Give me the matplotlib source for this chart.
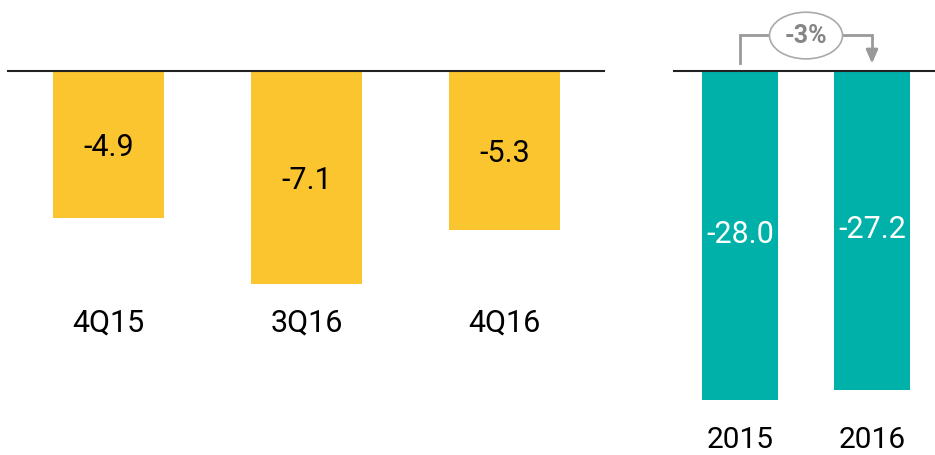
import matplotlib.pyplot as plt

plt.rcParams['font.family'] = ['Roboto', 'DejaVu Sans']

# quarterly values
quarters = ['4Q15', '3Q16', '4Q16']
quarter_vals = [-4.9, -7.1, -5.3]

# yearly values
years = ['2015', '2016']
year_vals = [-28.0, -27.2]
change_label = '-3%'

yellow = '#FBC52F'
teal = '#00B1A9'
grey = '#999999'

W, H = 935, 455
fig = plt.figure(figsize=(W / 100, H / 100), dpi=100)

# left panel: baseline at 71px, 30 px per unit
axl = fig.add_axes([8 / W, 0, (604 - 8) / W, 1])
axl.set_xlim(-0.508, 2.503)
axl.set_ylim(-(H - 71) / 30, 71 / 30)
axl.bar(range(len(quarters)), quarter_vals, width=0.56, color=yellow)
axl.axhline(0, color='#222222', lw=1.5, clip_on=False)
for i, v in enumerate(quarter_vals):
    axl.text(i, v / 2 - 0.1, f'{v:.1f}', ha='center', va='center',
             fontsize=22, color='black')
    axl.text(i, -8.4, quarters[i], ha='center', va='center',
             fontsize=22, color='black')
axl.axis('off')

# right panel: 11.74 px per unit
s = 11.74
axr = fig.add_axes([674 / W, 0, (W - 674) / W, 1])
axr.set_xlim(-(740 - 674) / 132, (W - 740) / 132)
axr.set_ylim(-(H - 71) / s, 71 / s)
axr.bar(range(len(years)), year_vals, width=0.57, color=teal)
axr.axhline(0, color='#222222', lw=1.5, clip_on=False)
for i, v in enumerate(year_vals):
    axr.text(i, v / 2 + 0.1, f'{v:.1f}', ha='center', va='center',
             fontsize=22, color='white',
             bbox=dict(boxstyle='square,pad=0.08', fc=teal, ec='none'))
    axr.text(i, -31.4, years[i], ha='center', va='center',
             fontsize=21.5, color='black')

# change bracket
y_lo, y_hi = 0.68, 3.07
axr.plot([0, 0, 1, 1], [y_lo, y_hi, y_hi, 1.6], color=grey, lw=2,
         solid_joinstyle='miter')
axr.annotate('', xy=(1, y_lo - 0.05), xytext=(1, 1.8),
             arrowprops=dict(arrowstyle='-|>,head_width=0.35,head_length=0.8',
                             color=grey, lw=2, shrinkA=0, shrinkB=0))
axr.text(0.5, y_hi - 0.05, change_label, ha='center', va='center', fontsize=18,
         fontweight='bold', color='#858585',
         bbox=dict(boxstyle='ellipse,pad=0.18', fc='white',
                   ec='#aaaaaa', lw=1.2))
axr.axis('off')

fig.savefig('out.png', dpi=100)
